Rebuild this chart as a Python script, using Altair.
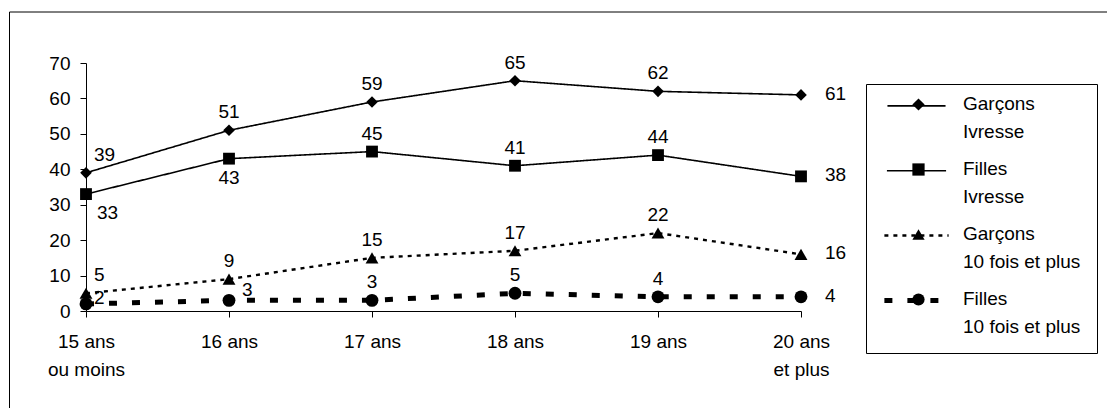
import json
import altair as alt
import pandas as pd

# ---------------- data ----------------
ages = ["15 ans\nou moins", "16 ans", "17 ans", "18 ans", "19 ans", "20 ans\net plus"]
series = ["Garçons\nIvresse", "Filles\nIvresse", "Garçons\n10 fois et plus", "Filles\n10 fois et plus"]
garcons_ivresse = [39, 51, 59, 65, 62, 61]
filles_ivresse = [33, 43, 45, 41, 44, 38]
garcons_10_fois = [5, 9, 15, 17, 22, 16]
filles_10_fois = [2, 3, 3, 5, 4, 4]
y_ticks = [0, 10, 20, 30, 40, 50, 60, 70]

values_by_series = [garcons_ivresse, filles_ivresse, garcons_10_fois, filles_10_fois]

# ---------------- styles (kept apart from the data) ----------------
FONT = "Liberation Sans"
FS = 19
dash_styles = [[1, 0], [1, 0], [4, 5], [8, 15]]
marker_shapes = ["diamond", "square", "triangle-up", "circle"]
marker_sizes = [135, 140, 165, 165]
line_widths = [1.6, 1.6, 2.4, 5]
thresholds = [0.5, 1.5, 2.5]  # series index -> style bucket
label_places = [
    ["above_right", "above", "above", "above", "above", "right"],
    ["below_right", "below", "above", "above", "above", "right"],
    ["above_right", "above", "above", "above", "above", "right"],
    ["right_low", "right_up", "above", "above", "above", "right"],
]
place_style = {
    "above": dict(align="center", dx=0, dy=-18),
    "below": dict(align="center", dx=0, dy=19),
    "right": dict(align="left", dx=24, dy=-1),
    "above_right": dict(align="left", dx=8, dy=-18),
    "below_right": dict(align="left", dx=11, dy=19),
    "right_low": dict(align="left", dx=8, dy=-6),
    "right_up": dict(align="left", dx=13, dy=-10),
}

rows = []
for k, (s, vals) in enumerate(zip(series, values_by_series)):
    for a, v, p in zip(ages, vals, label_places[k]):
        rows.append({"age": a, "serie": s, "k": k, "value": v, "place": p})
df = pd.DataFrame(rows)

x_enc = alt.X(
    "age:N",
    sort=ages,
    scale=alt.Scale(domain=ages, type="point", padding=0),
    axis=alt.Axis(
        title=None, labelAngle=0, labelExpr="split(datum.label, '\\n')",
        labelLineHeight=28, labelFontSize=FS, labelFont=FONT, labelColor="black",
        labelPadding=15, tickSize=6, tickColor="black", domainColor="black",
        grid=False, labelAlign="center",
    ),
)
y_enc = alt.Y(
    "value:Q",
    scale=alt.Scale(domain=[0, 70], nice=False, zero=True),
    axis=alt.Axis(
        title=None, values=y_ticks, labelFontSize=FS, labelFont=FONT, labelColor="black",
        labelPadding=10, tickSize=6, tickColor="black", domainColor="black", grid=False,
    ),
)

series_js = json.dumps(series, ensure_ascii=False)
nbsp = "\u00a0" * 7
legend_label_expr = f"split({series_js}[datum.index] + '{nbsp}', '\\n')"

common_legend = dict(
    title=None, orient="none", legendX=780,
    labelFontSize=FS, labelFont=FONT,
    labelBaseline="alphabetic", labelLimit=400, labelOffset=37,
    padding=16, rowPadding=17,
)
# legend of the lines (dash + width): visible labels and the frame
legend_lines = alt.Legend(
    legendY=21, labelColor="black", labelExpr=legend_label_expr,
    symbolType="M-5,-0.625H5", symbolSize=256, symbolStrokeColor="black", symbolOffset=25,
    strokeColor="black", **common_legend,
)
# legend of the markers, laid over the first one (blank two-line labels keep the same rows)
legend_marks = alt.Legend(
    legendY=16, labelOpacity=0, labelExpr="['\u00a0', '\u00a0']",
    symbolSize=150, symbolStrokeWidth=0, symbolFillColor="black", symbolOffset=27,
    **common_legend,
)

base = alt.Chart(df)

frame = alt.Chart(pd.DataFrame({"f": [0]})).mark_rect(
    filled=False, stroke="black", strokeWidth=1
).encode(
    x=alt.value(-76.5), x2=alt.value(3000), y=alt.value(-51), y2=alt.value(3000)
)

lines = base.mark_line(color="black").encode(
    x=x_enc, y=y_enc, detail="serie:N",
    strokeDash=alt.StrokeDash(
        "k:Q", scale=alt.Scale(type="threshold", domain=thresholds, range=dash_styles),
        legend=legend_lines,
    ),
    strokeWidth=alt.StrokeWidth(
        "k:Q", scale=alt.Scale(type="threshold", domain=thresholds, range=line_widths),
        legend=legend_lines,
    ),
)

points = base.mark_point(filled=True, color="black", opacity=1, strokeWidth=0).encode(
    x=x_enc, y=y_enc,
    shape=alt.Shape("serie:N", scale=alt.Scale(domain=series, range=marker_shapes), legend=legend_marks),
    size=alt.Size(
        "k:Q", scale=alt.Scale(type="threshold", domain=thresholds, range=marker_sizes), legend=None
    ),
)

texts = []
for key, st in place_style.items():
    texts.append(
        base.transform_filter(alt.datum.place == key)
        .mark_text(font=FONT, fontSize=FS, color="black", baseline="middle", **st)
        .encode(x=x_enc, y=y_enc, text="value:Q")
    )

chart = (
    alt.layer(frame, lines, points, *texts)
    .properties(
        width=715, height=248,
        autosize=alt.AutoSizeParams(type="none"),
        padding={"left": 78, "top": 55, "right": 306, "bottom": 97},
    )
    .configure(font=FONT, style={"guide-label": {"lineHeight": 28}})
    .configure_view(stroke=None)
)

chart.save("out.html", embed_options={"renderer": "svg", "actions": False})
